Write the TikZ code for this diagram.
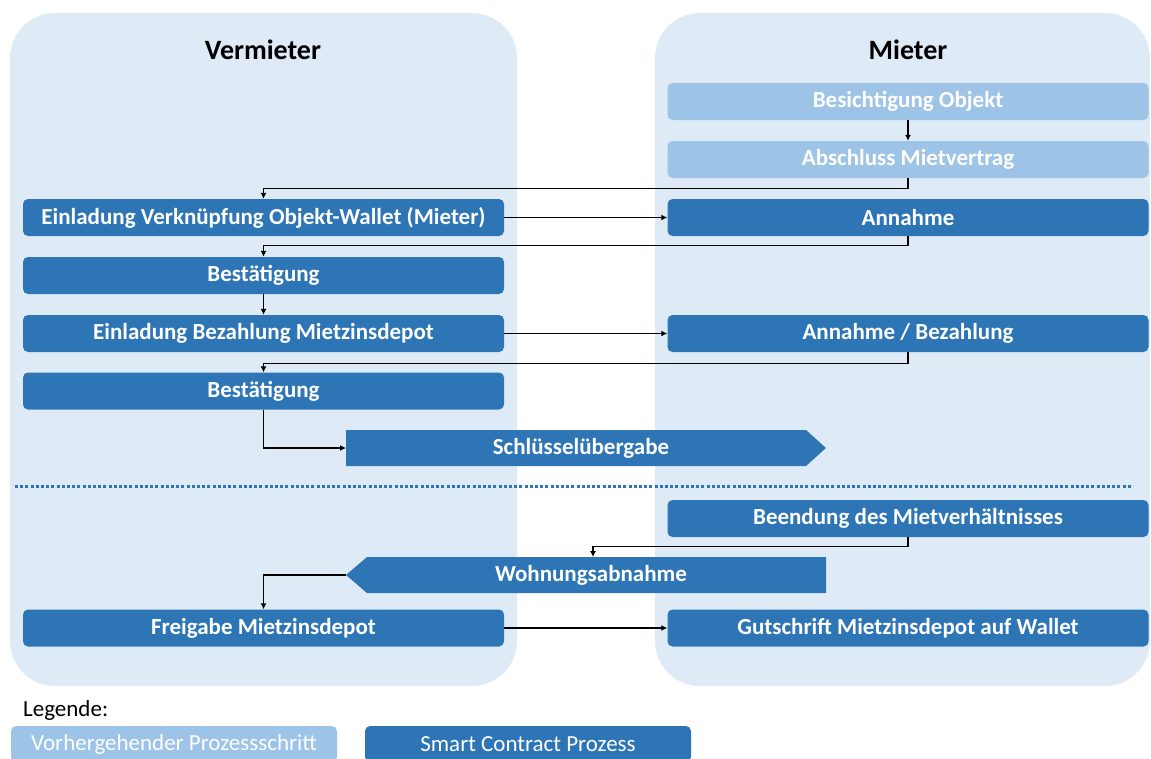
\documentclass[tikz,border=0pt]{standalone}
\usepackage{fontspec}
\setmainfont{Carlito}
\usetikzlibrary{arrows.meta}
\definecolor{panel}{HTML}{DEEBF7}
\definecolor{dark}{HTML}{2E75B6}
\definecolor{light}{HTML}{9DC3E6}
\begin{document}
\begin{tikzpicture}[x=1pt,y=-1pt,
  boxfont/.style={font=\bfseries\fontsize{23}{25}\selectfont},
  scbox/.style={boxfont, fill=dark, rounded corners=5pt, text=white, minimum width=481pt, minimum height=37pt, inner sep=0pt},
  prebox/.style={scbox, fill=light},
  conn/.style={-{Latex[length=6pt,width=6pt]}, line width=1.1pt, black},
  title/.style={font=\bfseries\fontsize{28}{30}\selectfont, text=black},
  legbox/.style={rounded corners=5pt, text=white, font=\fontsize{23}{25}\selectfont, minimum width=326pt, minimum height=36pt, inner sep=0pt}]
\useasboundingbox (0,0) rectangle (1151,758);
\clip (0,0) rectangle (1151,758);
% panels
\fill[panel, rounded corners=45pt] (10,13) rectangle (517,686);
\fill[panel, rounded corners=45pt] (655,13) rectangle (1150,686);
\node[title] (tv) at (263,50) {Vermieter};
\node[title] (tm) at (908,50) {Mieter};
% right column
\node[prebox] (besi) at (908,101.5) {Besichtigung Objekt};
\node[prebox] (absch) at (908,159.5) {Abschluss Mietvertrag};
\node[scbox] (ann) at (908,217.5) {Annahme};
\node[scbox] (annbez) at (908,333.5) {Annahme / Bezahlung};
\node[scbox] (beend) at (908,518.5) {Beendung des Mietverhältnisses};
\node[scbox] (gut) at (908,628) {Gutschrift Mietzinsdepot auf Wallet};
% left column
\node[scbox] (einl) at (263.5,217.5) {Einladung Verknüpfung Objekt-Wallet (Mieter)};
\node[scbox] (best1) at (263.5,275.5) {Bestätigung};
\node[scbox] (einlbez) at (263.5,333.5) {Einladung Bezahlung Mietzinsdepot};
\node[scbox] (best2) at (263.5,391) {Bestätigung};
\node[scbox] (frei) at (263.5,628) {Freigabe Mietzinsdepot};
% arrow shapes
\fill[dark] (346,430) -- (806,430) -- (826,448) -- (806,466) -- (346,466) -- cycle;
\node[boxfont, text=white] (schl) at (581,448) {Schlüsselübergabe};
\coordinate (schlL) at (346,448);
\fill[dark] (826,557) -- (367,557) -- (346,575) -- (367,593) -- (826,593) -- cycle;
\node[boxfont, text=white] (wohn) at (591,575) {Wohnungsabnahme};
\coordinate (wohnL) at (346,575);
\coordinate (wohnT) at (593,557);
% divider
\draw[dark, line width=3pt, dash pattern=on 3pt off 2.2pt] (15,486) -- (1133,486);
% connectors
\draw[conn] (besi) -- (absch);
\draw[conn] (absch.south) -- ++(0,10) -| (einl.north);
\draw[conn] (einl) -- (ann);
\draw[conn] (ann.south) -- ++(0,9) -| (best1.north);
\draw[conn] (best1) -- (einlbez);
\draw[conn] (einlbez) -- (annbez);
\draw[conn] (annbez.south) -- ++(0,11) -| (best2.north);
\draw[conn] (best2.south) |- (schlL);
\draw[conn] (beend.south) -- ++(0,9) -| (wohnT);
\draw[conn] (wohnL) -| (frei.north);
\draw[conn] (frei) -- (gut);
% legend
\node[anchor=west, inner sep=0pt, font=\fontsize{23}{25}\selectfont] (leg) at (23,710) {Legende:};
\node[legbox, fill=light] (leg1) at (174,744) {Vorhergehender Prozessschritt};
\node[legbox, fill=dark] (leg2) at (528,744) {Smart Contract Prozess};
\end{tikzpicture}
\end{document}
